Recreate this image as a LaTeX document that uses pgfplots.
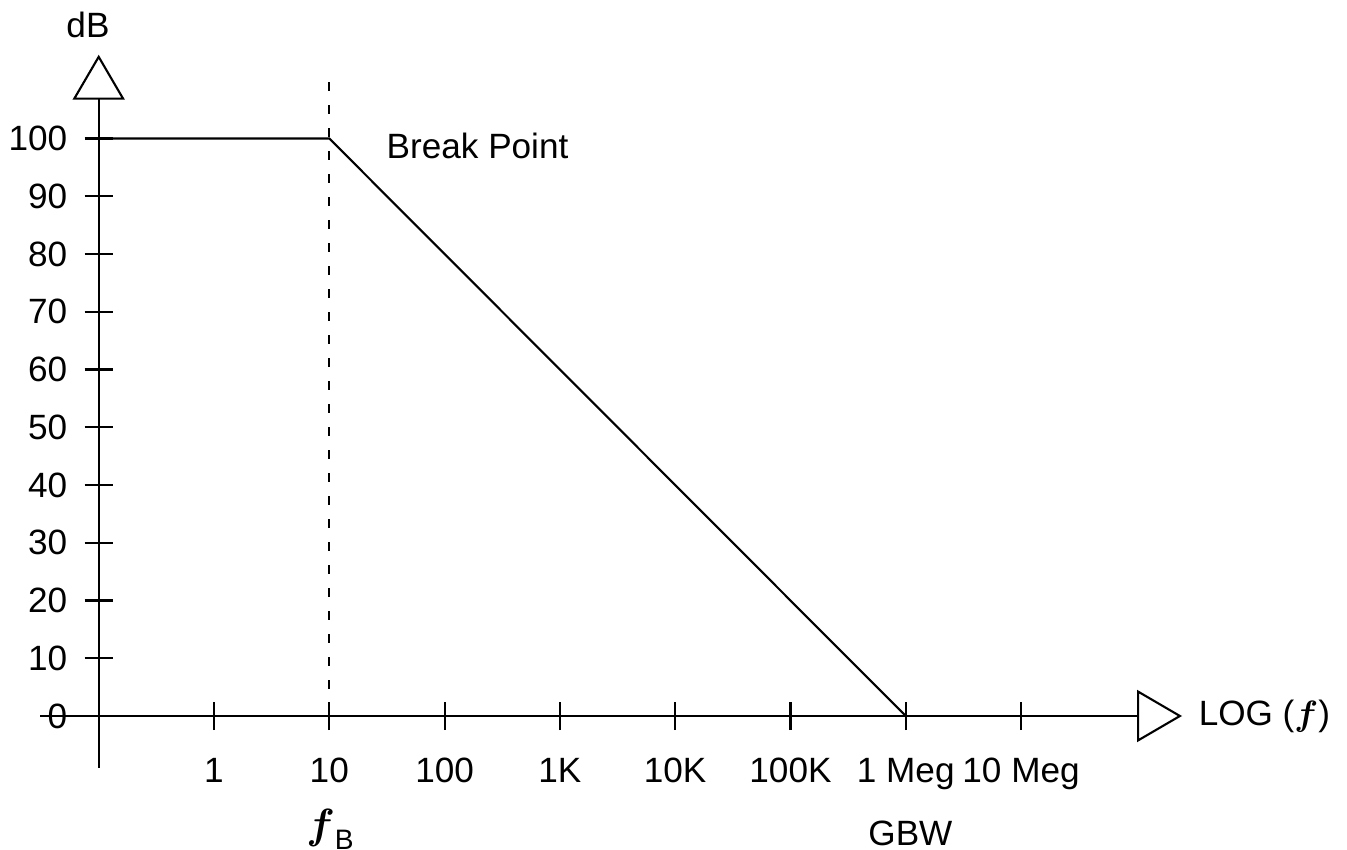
\documentclass[border=0pt]{standalone}
\usepackage{pgfplots}
\pgfplotsset{compat=1.18}
\usepackage{fontspec}
\setmainfont{Liberation Sans}
\usepackage{bm}
\usetikzlibrary{arrows.meta}
\begin{document}
\begin{tikzpicture}
\begin{axis}[
  x=11.529mm, y=0.5775mm,
  axis lines=middle,
  xmin=-0.509, xmax=9.396, ymin=-9.0, ymax=114.5,
  clip=false,
  axis line style={line width=0.6pt, black, -{Triangle[open, length=4.5mm, width=5.2mm, line width=0.6pt]}},
  xtick={1,2,3,4,5,6,7,8},
  xticklabels={1,10,100,1K,10K,100K,1 Meg,10 Meg},
  ytick={0,10,...,100},
  hide obscured x ticks=false, hide obscured y ticks=false,
  tick align=center, major tick length=2.8mm,
  tick style={line width=0.6pt, black},
  /pgf/number format/assume math mode=true,
  font=\fontsize{10}{12}\selectfont,
  xticklabel style={anchor=base, yshift=-5.2mm},
  yticklabel style={anchor=east, xshift=-0.5mm},
]
\addplot[black, line width=0.5pt, dash pattern=on 0.9mm off 1.4mm] coordinates {(2,109.7) (2,0)};
\addplot[black, line width=0.6pt] coordinates {(0,100) (2,100) (7,0)};
\node at (axis cs:-0.093,119.7) {dB};
\node[anchor=base west, inner sep=0pt] at (axis cs:2.492,96.6) {Break Point};
\node[anchor=west, inner sep=0pt] at (axis cs:9.535,0) {LOG ($\bm{f}$)};
\node at (axis cs:2.006,-19.6) {\large$\bm{f}$\raisebox{-0.5ex}{\footnotesize B}};
\node at (axis cs:7.04,-20.26) {GBW};
\coordinate (bl) at (axis cs:-0.856,-23.20);
\coordinate (tr) at (axis cs:10.827,123.98);
\end{axis}
\pgfresetboundingbox
\path[use as bounding box] (bl) rectangle (tr);
\end{tikzpicture}
\end{document}
